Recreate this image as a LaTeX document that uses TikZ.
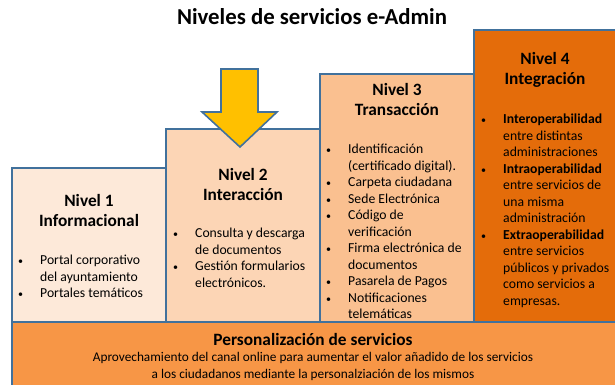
\documentclass[tikz,border=0pt]{standalone}
\usepackage{fontspec}
\setmainfont{Carlito}
\definecolor{bordc}{HTML}{41719C}
\definecolor{fone}{HTML}{FDE9D9}
\definecolor{ftwo}{HTML}{FCD5B5}
\definecolor{fthree}{HTML}{FAC090}
\definecolor{ffour}{HTML}{E46C0A}
\definecolor{fbase}{HTML}{F79646}
\definecolor{farrow}{HTML}{FFC000}
\newcommand{\blt}{\llap{{\fontsize{10}{10}\selectfont\textbullet}\hspace{17pt}}}
\tikzset{
  lvlbox/.style={draw=bordc, line width=1.6pt},
  lvltitle/.style={font=\fontsize{17.3}{20.5}\selectfont\bfseries, align=center, anchor=north, inner sep=0pt},
  lvllist/.style={font=\fontsize{13.7}{16.5}\selectfont, align=left, anchor=north west, inner sep=0pt},
}
\begin{document}
\begin{tikzpicture}[x=1pt,y=-1pt]
\useasboundingbox (0,0) rectangle (615,385);
% base
\path[lvlbox, fill=fbase] (12,322) rectangle (640,400);
% level boxes
\path[lvlbox, fill=fone] (12,168) rectangle (166,322);
\path[lvlbox, fill=ftwo] (166,129) rectangle (320,322);
\path[lvlbox, fill=fthree] (320,74) rectangle (474,322);
\path[lvlbox, fill=ffour] (474,30) rectangle (640,322);
% redraw base top line
\draw[draw=bordc, line width=1.6pt] (12,322) -- (615,322);
% arrow
\path[draw=bordc, line width=1.6pt, fill=farrow, line join=miter]
  (221,69) -- (258,69) -- (258,112) -- (277,112) -- (240,147) -- (202,112) -- (221,112) -- cycle;
% title
\node[font=\fontsize{22.8}{26}\selectfont\bfseries, inner sep=0pt] (title) at (312,17) {Niveles de servicios e-Admin};
% level 1
\node[lvltitle] (t1) at (89,194) {Nivel 1\\Informacional};
\node[lvllist] (l1) at (40,255) {\blt Portal corporativo\\del ayuntamiento\\\blt Portales temáticos};
% level 2
\node[lvltitle] (t2) at (243,168) {Nivel 2\\Interacción};
\node[lvllist] (l2) at (195,228) {\blt Consulta y descarga\\de documentos\\\blt Gestión formularios\\electrónicos.};
% level 3
\node[lvltitle] (t3) at (397,83) {Nivel 3\\Transacción};
\node[lvllist] (l3) at (348,144) {\blt Identificación\\(certificado digital).\\\blt Carpeta ciudadana\\\blt Sede Electrónica\\\blt Código de\\verificación\\\blt Firma electrónica de\\documentos\\\blt Pasarela de Pagos\\\blt Notificaciones\\telemáticas};
% level 4
\node[lvltitle] (t4) at (545,52) {Nivel 4\\Integración};
\node[lvllist] (l4) at (503,114) {\blt\textbf{Interoperabilidad}\\entre distintas\\administraciones\\\blt\textbf{Intraoperabilidad}\\entre servicios de\\una misma\\administración\\\blt\textbf{Extraoperabilidad}\\entre servicios\\públicos y privados\\como servicios a\\empresas.};
% base text
\node[font=\fontsize{17.3}{20}\selectfont\bfseries, inner sep=0pt] (bt) at (313,339) {Personalización de servicios};
\node[font=\fontsize{13.3}{16.6}\selectfont, align=center, anchor=north, inner sep=0pt] (bd) at (313,352) {Aprovechamiento del canal online para aumentar el valor añadido de los servicios\\a los ciudadanos mediante la personalziación de los mismos};
\end{tikzpicture}
\end{document}
